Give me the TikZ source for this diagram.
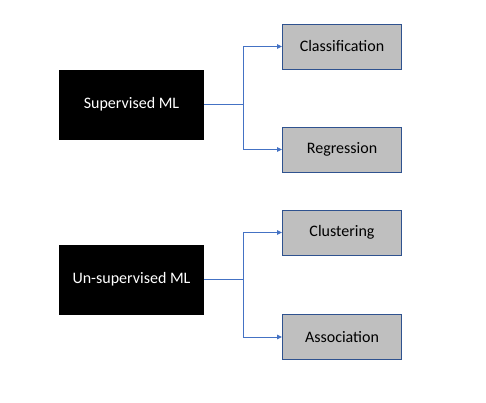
\documentclass[tikz,border=0pt]{standalone}
\usepackage{fontspec}
\setmainfont{Carlito}
\usetikzlibrary{arrows.meta}
\definecolor{boxblue}{RGB}{47,82,143}
\definecolor{boxgray}{RGB}{191,191,191}
\definecolor{linkblue}{RGB}{68,114,196}
\begin{document}
\begin{tikzpicture}[x=1pt,y=-1pt,
  blackbox/.style={fill=black,draw=none,text=white,minimum width=145pt,minimum height=70pt,inner sep=0pt,font=\fontsize{16}{19}\selectfont},
  graybox/.style={fill=boxgray,draw=boxblue,line width=1pt,minimum width=119pt,minimum height=45pt,inner sep=0pt,font=\fontsize{16}{19}\selectfont},
  link/.style={draw=linkblue,line width=1pt,-{Triangle[length=5pt,width=4.5pt]}},
  trunk/.style={draw=linkblue,line width=1pt}]
\useasboundingbox (0,0) rectangle (486,402);
\node[blackbox] (sup) at (131.5,104.5) {Supervised ML};
\node[blackbox] (uns) at (131.5,279.5) {Un-supervised ML};
\node[graybox] (cla) at (342,46.5) {Classification};
\node[graybox] (reg) at (342,149.5) {Regression};
\node[graybox] (clu) at (342,232.5) {Clustering};
\node[graybox] (ass) at (342,337) {Association};
\coordinate (j1) at (243,104.5);
\coordinate (j2) at (243,279.5);
\draw[trunk] (sup.east) -- (j1);
\draw[link] (j1) |- (cla.west);
\draw[link] (j1) |- (reg.west);
\draw[trunk] (uns.east) -- (j2);
\draw[link] (j2) |- (clu.west);
\draw[link] (j2) |- (ass.west);
\end{tikzpicture}
\end{document}
